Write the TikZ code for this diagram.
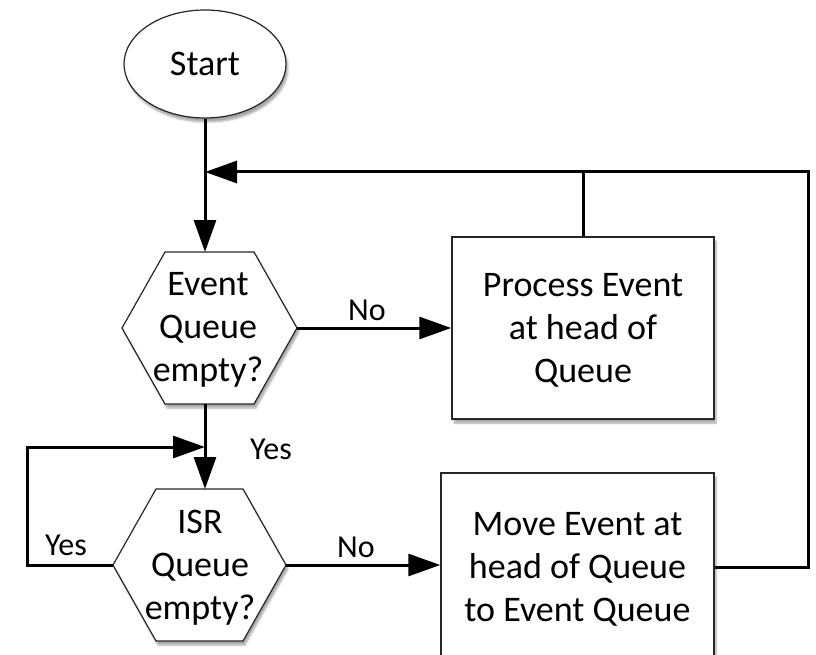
\documentclass[tikz,border=0pt]{standalone}
\usepackage{fontspec}
\setmainfont{Carlito}
\usetikzlibrary{arrows.meta,shapes.geometric,shadows.blur}
\begin{document}
\begin{tikzpicture}[x=1pt,y=-1pt,
  txt/.style={font=\fontsize{36}{43}\selectfont, align=center, inner sep=0pt},
  shd/.style={blur shadow={shadow xshift=2pt, shadow yshift=-4pt, shadow blur steps=6, shadow opacity=35}},
  boxshape/.style={draw=black!85, line width=1.5pt, fill=white, shd},
  hexshape/.style={draw=black!85, line width=1.2pt, fill=white, shd},
  conn/.style={line width=3pt, draw=black},
  arr/.style={conn, -{Triangle[length=32pt,width=22pt]}},
  lbl/.style={font=\fontsize{32}{38}\selectfont, inner sep=0pt}]
\useasboundingbox (0,0) rectangle (816,655);
% Start
\node[ellipse, draw=black!85, line width=1.2pt, fill=white, shd, minimum width=162pt, minimum height=108pt, inner sep=0pt, font=\fontsize{36}{43}\selectfont] (start) at (205,64) {Start};
% Hexagon 1
\coordinate (h1w) at (122,328);
\coordinate (h1e) at (297,328);
\coordinate (h1t) at (205,252);
\coordinate (h1b) at (205,404);
\path[hexshape] (122,328) -- (165,252) -- (254,252) -- (297,328) -- (254,404) -- (165,404) -- cycle;
\node[txt] (h1) at (208,330) {Event\\Queue\\empty?};
% Hexagon 2
\coordinate (h2w) at (113,565);
\coordinate (h2e) at (286,565);
\coordinate (h2t) at (205,489);
\path[hexshape] (113,565) -- (156,489) -- (243,489) -- (286,565) -- (243,641) -- (156,641) -- cycle;
\node[txt] (h2) at (200,568) {ISR\\Queue\\empty?};
% Process box
\node[boxshape, minimum width=262pt, minimum height=182pt, inner sep=0pt] (pbox) at (583,328) {};
\node[txt] (ptxt) at (583,330) {Process Event\\at head of\\Queue};
% Move box
\node[boxshape, minimum width=273pt, minimum height=188pt, inner sep=0pt] (mbox) at (577.5,567) {};
\node[txt] (mtxt) at (577.5,569) {Move Event at\\head of Queue\\to Event Queue};
% junctions
\coordinate (j1) at (205,172);
\coordinate (j2) at (205,447);
\coordinate (rc) at (808,172);
\coordinate (lc) at (27,447);
% connectors
\draw[arr] (start.south) -- (h1t);
\draw[arr] (mbox.east) -| (rc) -- (j1);
\draw[conn] (pbox.north) -- (pbox.north |- j1);
\draw[arr] (h1e) -- (h1e -| pbox.west);
\draw[arr] (h1b) -- (h2t);
\draw[arr] (h2w) -| (lc) -- (j2);
\draw[arr] (h2e) -- (h2e -| mbox.west);
% labels
\node[lbl] (no1) at (367,310) {No};
\node[lbl] (no2) at (356,547) {No};
\node[lbl] (yes1) at (271,449) {Yes};
\node[lbl] (yes2) at (66,545) {Yes};
\end{tikzpicture}
\end{document}
